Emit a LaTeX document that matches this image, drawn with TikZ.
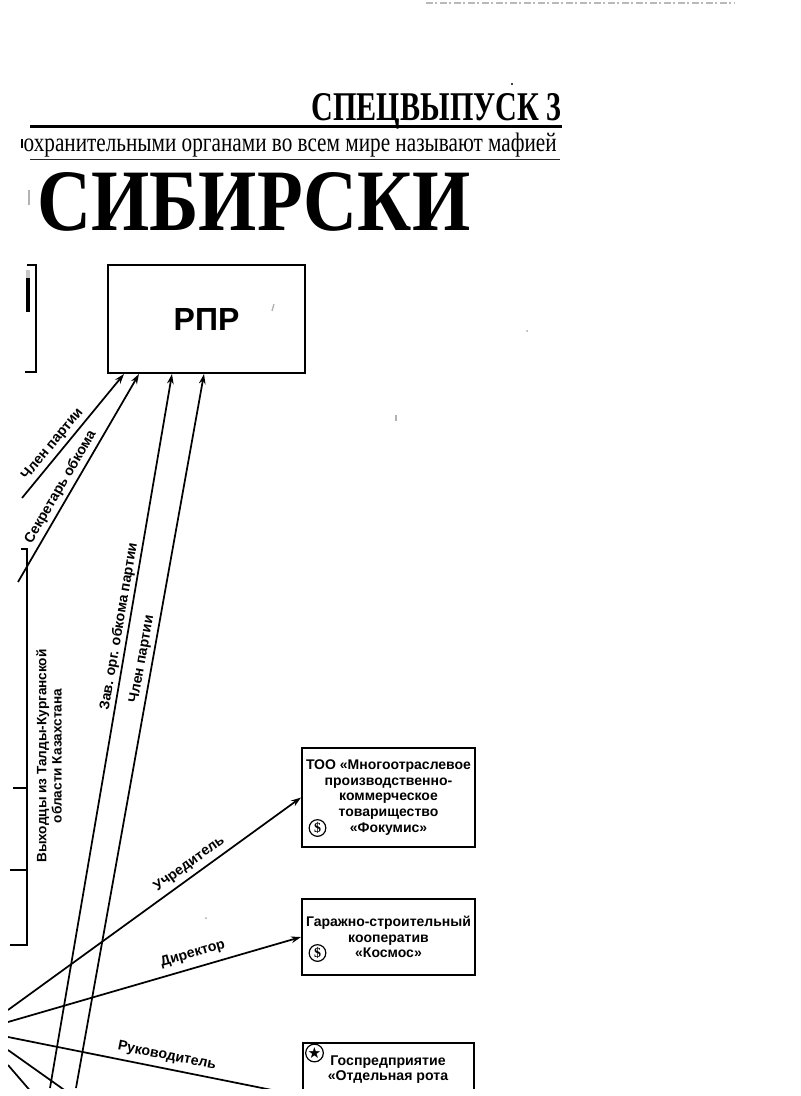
\documentclass[tikz,border=0pt]{standalone}
\usepackage{fontspec}
\setmainfont{Liberation Serif}
\newfontfamily\sansf{Liberation Sans}
\newfontfamily\symf{DejaVu Sans}
\usetikzlibrary{arrows.meta}
\begin{document}
\begin{tikzpicture}[x=0.75pt,y=-0.75pt,
  lab/.style={font={\sansf\bfseries\fontsize{10.6pt}{11.8pt}\selectfont}, inner sep=2.5pt},
  box/.style={draw, line width=1.5pt, align=center, inner sep=0pt,
    font={\sansf\bfseries\fontsize{10.5pt}{11.8pt}\selectfont}},
  conn/.style={line width=1.3pt},
  arr/.style={conn, -{Stealth[length=7.5pt,width=5pt]}},
  coin/.style={circle, draw, line width=0.9pt, minimum size=12.5pt, inner sep=0pt,
    font={\bfseries\fontsize{10.5pt}{10.5pt}\selectfont}},
  hrule/.style={line width=1.9pt},
  noise/.style={gray!60, line width=1pt}]

\fill[white] (0,0) rectangle (800,1096);
\useasboundingbox (0,0) rectangle (800,1096);

\begin{scope}
\clip (8,0) rectangle (800,1088);

% --- scan noise ---
\draw[gray!55, line width=1.4pt, dash pattern=on 5pt off 1.5pt on 2pt off 2pt] (426,3) -- (735,3);
\fill[black] (512,84) circle (1.2);
\fill[gray!70] (527,331) circle (1);
\draw[noise] (274,304) -- (272,311);
\draw[noise] (396,415) -- (396,421);
\fill[gray!70] (206,918) circle (1);
\draw[gray!60, line width=1.2pt] (29,190) -- (29,205);

% --- header ---
\node[anchor=base east, inner sep=0pt, font={\bfseries\fontsize{30.6pt}{32pt}\selectfont}] (spec) at (562,120)
  {\resizebox{187.5pt}{\height}{СПЕЦВЫПУСК 3}};
\draw[hrule] (30,126.5) -- (562,126.5);
\node[anchor=base east, inner sep=0pt, font={\fontsize{20pt}{22pt}\selectfont}] (sub) at (557,151)
  {\resizebox{399.75pt}{\height}{охранительными органами во всем мире называют мафией}};
\draw[line width=1.5pt] (21.5,139) -- (21.5,148);
\draw[line width=1.2pt, black!85] (30,159.5) -- (560,159.5);
\node[anchor=base west, inner sep=0pt, font={\bfseries\fontsize{65.7pt}{66pt}\selectfont}] (sib) at (37,230)
  {\resizebox{324.75pt}{\height}{СИБИРСКИ}};

% --- left brackets ---
\draw[line width=1.2pt] (27,265) -- (36,265) -- (36,372) -- (25,372);
\draw[line width=2.4pt, gray!45] (28,270) -- (28,278);
\draw[line width=2.4pt] (28,278) -- (28,312);
\draw[line width=1.6pt] (21,549) -- (27,549) -- (27,945) -- (10,945);
\draw[line width=1.6pt] (13,788) -- (27,788);
\draw[line width=1.6pt] (10,870) -- (27,870);
\node[lab, rotate=90, align=center, font={\sansf\bfseries\fontsize{10.2pt}{11.3pt}\selectfont}] (vyh) at (49,756)
  {Выходцы из Талды-Курганской\\области Казахстана};

% --- boxes ---
\node[box, minimum width=147.75pt, minimum height=81pt, font={\sansf\bfseries\fontsize{24pt}{26pt}\selectfont}] (rpr) at (206.5,319) {РПР};
\node[box, minimum width=129.75pt, minimum height=74.25pt] (fok) at (388.5,797.5)
  {ТОО «Многоотраслевое\\производственно-\\коммерческое\\товарищество\\«Фокумис»};
\node[coin] (fokd) at (317.5,828) {\$};
\node[box, minimum width=129.75pt, minimum height=57pt] (kos) at (388.5,937)
  {Гаражно-строительный\\кооператив\\«Космос»};
\node[coin] (kosd) at (317.5,953) {\$};
\node[box, anchor=north west, minimum width=128.25pt, minimum height=79.5pt] (gos) at (302,1042) {};
\node[coin, font={\symf\fontsize{11.5pt}{11.5pt}\selectfont}] (gosst) at (314.5,1053) {★};
\node[lab, align=center] (gost) at (388,1069.5) {Госпредприятие\\«Отдельная рота};

% --- connectors to РПР ---
\coordinate (s1) at (22,498);
\coordinate (s2) at (18,582);
\coordinate (s3) at (50,1088);
\coordinate (s4) at (76,1088);
\draw[arr] (s1) -- ([xshift=12.75pt]rpr.south west) node[lab, sloped, above, pos=0.38] (l1) {Член партии};
\draw[arr] (s2) -- ([xshift=24pt]rpr.south west) node[lab, sloped, above, pos=0.43] (l2) {Секретарь обкома};
\draw[arr] (s3) -- ([xshift=48.75pt]rpr.south west) node[lab, sloped, above, pos=0.644, inner sep=1.5pt] (l3) {Зав. орг. обкома партии};
\draw[arr] (s4) -- ([xshift=72.75pt]rpr.south west) node[lab, sloped, above, pos=0.598] (l4) {Член партии};

% --- connectors to the right ---
\coordinate (r1) at (8,1010);
\coordinate (r2) at (8,1022);
\coordinate (r3) at (8,1037);
\coordinate (r4) at (8,1050);
\coordinate (r4e) at (70,1094);
\coordinate (r5) at (8,1065);
\coordinate (r5e) at (33,1094);
\draw[arr] (r1) -- (fok.west) node[lab, sloped, above, pos=0.643, inner sep=3.5pt] (l5) {Учредитель};
\draw[arr] (r2) -- (kos.west) node[lab, sloped, above, pos=0.644, inner sep=5pt] (l6) {Директор};
\draw[arr] (r3) -- (gos.west) node[lab, sloped, above, pos=0.532, inner sep=4pt] (l7) {Руководитель};
\draw[conn] (r4) -- (r4e);
\draw[conn] (r5) -- (r5e);
\end{scope}
\end{tikzpicture}
\end{document}
